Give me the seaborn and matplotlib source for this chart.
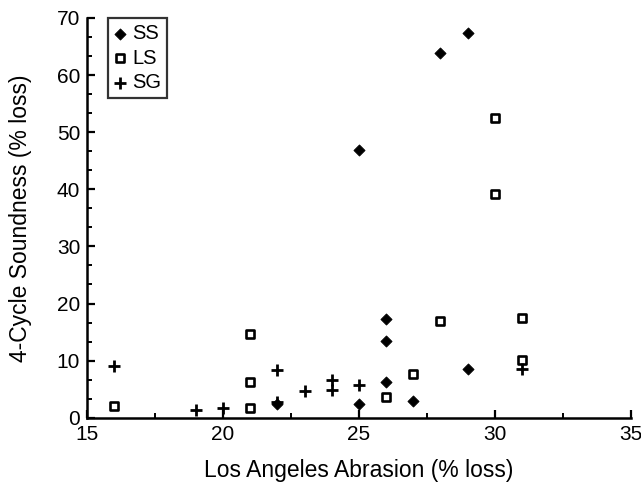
import numpy as np
import pandas as pd
import matplotlib
matplotlib.use("Agg")
import matplotlib.pyplot as plt
from matplotlib.ticker import MultipleLocator
import seaborn as sns

# Aggregate test results: Los Angeles abrasion vs. 4-cycle soundness loss
ss_abrasion = [22, 25, 25, 26, 26, 26, 27, 28, 29, 29]
ss_soundness = [2.4, 2.5, 46.8, 6.2, 13.4, 17.3, 2.9, 63.8, 67.3, 8.5]

ls_abrasion = [16, 21, 21, 21, 26, 27, 28, 30, 30, 31, 31]
ls_soundness = [2.0, 1.7, 6.3, 14.6, 3.7, 7.7, 17.0, 39.2, 52.5, 10.1, 17.5]

sg_abrasion = [16, 19, 20, 22, 22, 23, 24, 24, 25, 31]
sg_soundness = [9.0, 1.35, 1.7, 8.4, 2.8, 4.7, 4.9, 6.7, 5.8, 8.5]

groups = ["SS", "LS", "SG"]

df = pd.concat([
    pd.DataFrame({"abrasion": ss_abrasion, "soundness": ss_soundness, "type": "SS"}),
    pd.DataFrame({"abrasion": ls_abrasion, "soundness": ls_soundness, "type": "LS"}),
    pd.DataFrame({"abrasion": sg_abrasion, "soundness": sg_soundness, "type": "SG"}),
], ignore_index=True)

sns.set_style("ticks")
plt.rcParams["font.family"] = ["Liberation Sans", "DejaVu Sans"]
plt.rcParams["text.color"] = "black"
plt.rcParams["axes.labelcolor"] = "black"

fig = plt.figure(figsize=(6.41, 4.83), dpi=100)
ax = fig.add_axes([0.136, 0.135, 0.848, 0.828])

# Filled diamonds
sub = df[df["type"] == "SS"]
sns.scatterplot(data=sub, x="abrasion", y="soundness", marker="D", s=32,
                color="black", edgecolor="black", linewidth=0.6, ax=ax, label="SS",
                zorder=3)
# Open squares
sub = df[df["type"] == "LS"]
sns.scatterplot(data=sub, x="abrasion", y="soundness", marker="s", s=26,
                facecolor="white", edgecolor="black", linewidth=1.9, ax=ax, label="LS",
                zorder=3)
# Crosses
sub = df[df["type"] == "SG"]
sns.scatterplot(data=sub, x="abrasion", y="soundness", marker="+", s=64,
                color="black", linewidth=2.0, ax=ax, label="SG", zorder=3)

ax.set_xlim(15, 35)
ax.set_ylim(0, 70)
ax.xaxis.set_major_locator(MultipleLocator(5))
ax.xaxis.set_minor_locator(MultipleLocator(2.5))
ax.yaxis.set_major_locator(MultipleLocator(10))
ax.yaxis.set_minor_locator(MultipleLocator(10 / 3))

for side in ("top", "right"):
    ax.spines[side].set_visible(False)
for side in ("left", "bottom"):
    ax.spines[side].set_linewidth(1.8)
    ax.spines[side].set_color("black")

ax.tick_params(which="major", direction="in", length=6, width=1.6,
               labelsize=15, colors="black", pad=5)
ax.tick_params(which="minor", direction="in", length=3.5, width=1.4, colors="black")

ax.set_xlabel("Los Angeles Abrasion (% loss)", fontsize=16.5, labelpad=11)
ax.set_ylabel("4-Cycle Soundness (% loss)", fontsize=16.5, labelpad=18)

leg = ax.legend(loc="upper left", bbox_to_anchor=(0.038, 1.0), frameon=True,
                fancybox=False, fontsize=14.5, handletextpad=0.3,
                borderpad=0.3, labelspacing=0.28, handlelength=0.6,
                borderaxespad=0)
leg.get_frame().set_edgecolor("black")
leg.get_frame().set_linewidth(1.6)

fig.savefig("out.png", dpi=100, facecolor="white")
